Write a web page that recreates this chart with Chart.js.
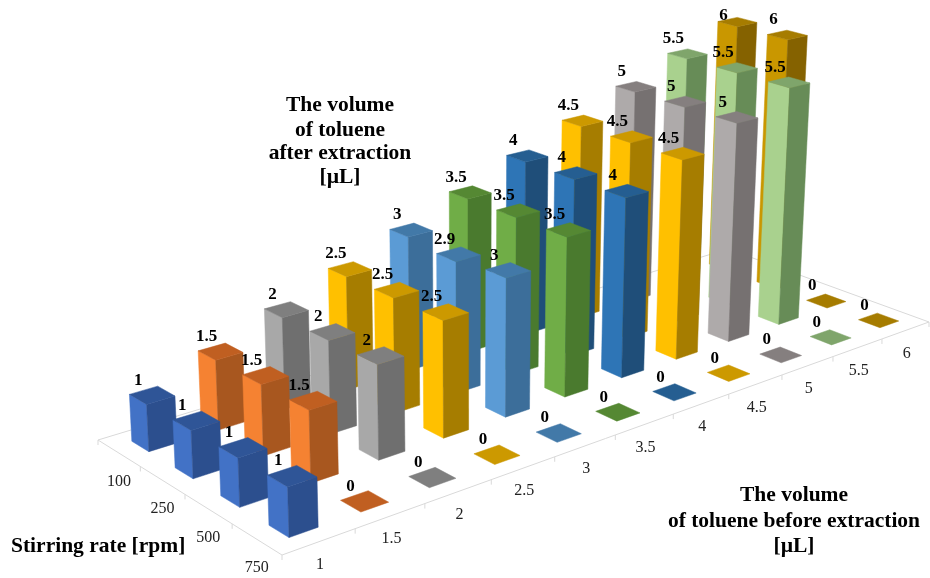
<!DOCTYPE html>
<html>
<head>
<meta charset="utf-8">
<style>
  html, body { margin: 0; padding: 0; background: #fff; }
  #wrap { width: 930px; height: 578px; }
</style>
<script src="https://cdn.jsdelivr.net/npm/chart.js@4"></script>
</head>
<body>
<div id="wrap"><canvas id="chart" width="930" height="578"></canvas></div>
<script>
const volumeLabels = ['1', '1.5', '2', '2.5', '3', '3.5', '4', '4.5', '5', '5.5', '6'];
const rateLabels = ['750', '500', '250', '100'];

// toluene after extraction per stirring rate, one value per starting volume
const rate750 = [1, 0, 0, 0, 0, 0, 0, 0, 0, 0, 0];
const rate500 = [1, 1.5, 2, 2.5, 3, 3.5, 4, 4.5, 5, 5.5, 0];
const rate250 = [1, 1.5, 2, 2.5, 2.9, 3.5, 4, 4.5, 5, 5.5, 6];
const rate100 = [1, 1.5, 2, 2.5, 3, 3.5, 4, 4.5, 5, 5.5, 6];
const rows = [rate750, rate500, rate250, rate100];

// [front face, side face, top face]
const volumeColors = [
  ['#4272c6', '#2c4f8e', '#2f5597'],
  ['#f58232', '#a8571f', '#c05f21'],
  ['#a8a8a8', '#6f6f6f', '#7f7f7f'],
  ['#ffc000', '#a67d00', '#cc9900'],
  ['#5b9bd5', '#3c6e9a', '#4279a8'],
  ['#70ad47', '#4a7a2e', '#558833'],
  ['#2e75b6', '#1f4e79', '#255e91'],
  ['#ffc000', '#a67d00', '#cc9900'],
  ['#aeaaaa', '#767171', '#857f7f'],
  ['#a9d18e', '#678c57', '#7fa56b'],
  ['#c99700', '#856200', '#a67c00']
];

const SERIF = '"Liberation Serif", serif';
const BAR_SIZE = 0.4;

// Floor corners and vanishing point of the verticals, for the 3D projection
const floor = { front: [282, 555], right: [929, 322], back: [728, 249], left: [98, 440] };
const vertical = { x: 470, y: 7000, k: 0.0079 };

function buildProjection() {
  const [x0, y0] = floor.front, [x1, y1] = floor.right, [x2, y2] = floor.back, [x3, y3] = floor.left;
  const dx1 = x1 - x2, dx2 = x3 - x2, sx = x0 - x1 + x2 - x3;
  const dy1 = y1 - y2, dy2 = y3 - y2, sy = y0 - y1 + y2 - y3;
  const den = dx1 * dy2 - dx2 * dy1;
  const g = (sx * dy2 - dx2 * sy) / den;
  const h = (dx1 * sy - sx * dy1) / den;
  const a = x1 - x0 + g * x1, b = x3 - x0 + h * x3;
  const d = y1 - y0 + g * y1, e = y3 - y0 + h * y3;
  return (u, v, z) => {
    const s = u / volumeLabels.length, t = v / rateLabels.length, lift = vertical.k * z;
    const w = g * s + h * t + 1 - lift;
    return {
      x: (a * s + b * t + x0 - lift * vertical.x) / w,
      y: (d * s + e * t + y0 - lift * vertical.y) / w
    };
  };
}
const project = buildProjection();

const bars3d = {
  id: 'bars3d',
  beforeDatasetsDraw(chart) {
    const { ctx, scales } = chart;
    const toPx = p => ({ x: scales.x.getPixelForValue(p.x), y: scales.y.getPixelForValue(p.y) });
    const px = (u, v, z) => toPx(project(u, v, z));
    const nu = volumeLabels.length, nv = rateLabels.length;

    // floor outline and tick marks
    ctx.save();
    ctx.strokeStyle = '#d9d9d9';
    ctx.lineWidth = 1;
    polygon(ctx, [px(0, 0, 0), px(nu, 0, 0), px(nu, nv, 0), px(0, nv, 0)]);
    ctx.stroke();
    for (let u = 0; u <= nu; u++) tick(ctx, px(u, 0, 0));
    for (let v = 1; v <= nv; v++) tick(ctx, px(0, v, 0));

    // far bars first so nearer ones cover them
    for (let v = nv - 1; v >= 0; v--) {
      for (let u = nu - 1; u >= 0; u--) {
        drawBar(ctx, px, u, v, rows[v][u], volumeColors[u]);
      }
    }

    // value labels sit on top of every bar, kept inside the top edge
    ctx.fillStyle = '#000';
    ctx.font = 'bold 17px ' + SERIF;
    ctx.textAlign = 'center';
    ctx.textBaseline = 'middle';
    chart.data.datasets.forEach((ds, u) => {
      const meta = chart.getDatasetMeta(u);
      meta.data.forEach((pt, v) => {
        ctx.fillText(String(rows[v][u]), pt.x - 14, Math.max(16, pt.y - 15));
      });
    });

    // axis tick labels
    ctx.fillStyle = '#222';
    ctx.font = '16px ' + SERIF;
    volumeLabels.forEach((label, u) => {
      const p = px(u + 0.5, 0, 0);
      ctx.fillText(label, p.x + 1, p.y + 23);
    });
    rateLabels.forEach((label, v) => {
      const p = px(0, v + 0.5, 0);
      ctx.fillText(label, p.x, p.y + 29);
    });

    // axis titles
    ctx.fillStyle = '#000';
    ctx.font = 'bold 21.5px ' + SERIF;
    ['The volume', 'of toluene', 'after extraction', '[µL]'].forEach((line, i) => {
      ctx.fillText(line, 340, [105, 130, 153, 177][i]);
    });
    ['The volume', 'of toluene before extraction', '[µL]'].forEach((line, i) => {
      ctx.fillText(line, 794, [495, 521, 546][i]);
    });
    ctx.textAlign = 'left';
    ctx.fillText('Stirring rate [rpm]', 11, 546);
    ctx.restore();
  }
};

function polygon(ctx, pts) {
  ctx.beginPath();
  pts.forEach((p, i) => (i ? ctx.lineTo(p.x, p.y) : ctx.moveTo(p.x, p.y)));
  ctx.closePath();
}

function tick(ctx, p) {
  ctx.beginPath();
  ctx.moveTo(p.x, p.y);
  ctx.lineTo(p.x, p.y + 5);
  ctx.stroke();
}

function drawBar(ctx, px, u, v, value, colors) {
  const half = BAR_SIZE / 2;
  const u0 = u + 0.5 - half, u1 = u + 0.5 + half;
  const v0 = v + 0.5 - half, v1 = v + 0.5 + half;
  const face = (pts, color) => {
    polygon(ctx, pts);
    ctx.fillStyle = color;
    ctx.strokeStyle = color;
    ctx.lineWidth = 0.5;
    ctx.fill();
    ctx.stroke();
  };
  if (value > 0) {
    // left face looks down the rate axis, right face along the volume axis
    face([px(u0, v1, 0), px(u0, v0, 0), px(u0, v0, value), px(u0, v1, value)], colors[0]);
    face([px(u0, v0, 0), px(u1, v0, 0), px(u1, v0, value), px(u0, v0, value)], colors[1]);
  }
  face([px(u0, v0, value), px(u1, v0, value), px(u1, v1, value), px(u0, v1, value)], colors[2]);
}

new Chart(document.getElementById('chart'), {
  type: 'scatter',
  data: {
    datasets: volumeLabels.map((label, u) => ({
      label,
      data: rows.map((row, v) => project(u + 0.5, v + 0.5, row[u])),
      pointRadius: 0,
      pointHoverRadius: 0
    }))
  },
  options: {
    responsive: false,
    animation: false,
    layout: { padding: 0 },
    scales: {
      x: { type: 'linear', display: false, min: 0, max: 930 },
      y: { type: 'linear', display: false, min: 0, max: 578, reverse: true }
    },
    plugins: { legend: { display: false }, tooltip: { enabled: false } }
  },
  plugins: [bars3d]
});
</script>
</body>
</html>
